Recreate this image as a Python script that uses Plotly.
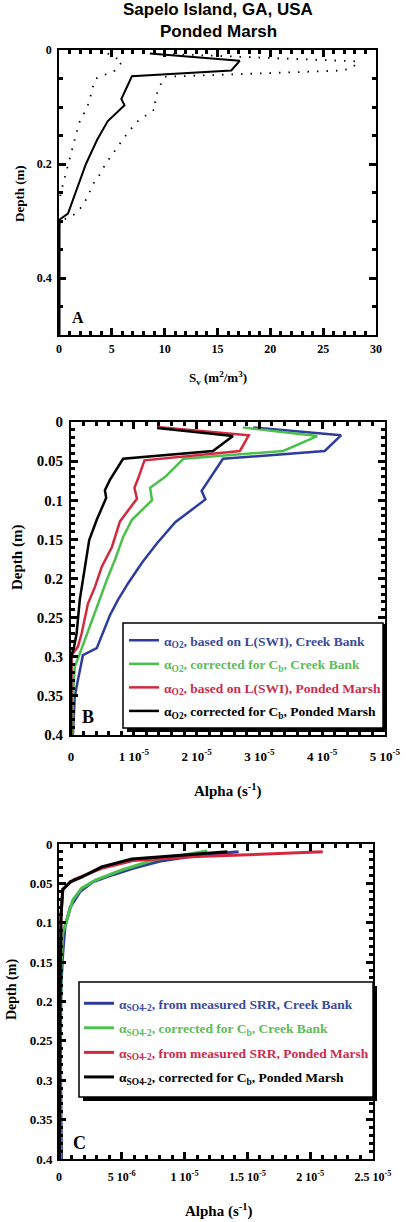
import plotly.graph_objects as go

W, H = 410, 1222

# ---------------- Panel A data: Sv (m2/m3) vs depth (m) ----------------
sv_depth = [0.006, 0.019, 0.036, 0.046, 0.086, 0.097, 0.125, 0.158, 0.2, 0.228, 0.263, 0.287, 0.297, 0.31, 0.5]
sv_mean = [8.6, 17.1, 16.3, 6.9, 5.9, 6.2, 4.6, 3.6, 2.55, 2.0, 1.3, 0.85, 0.1, 0.05, 0.05]

sv_hi_depth = [0.006, 0.02, 0.031, 0.036, 0.047, 0.057, 0.075, 0.091, 0.102, 0.117, 0.127, 0.153, 0.184, 0.2, 0.22, 0.236, 0.258, 0.276, 0.288, 0.3]
sv_hi = [9.0, 28.3, 27.8, 26.8, 10.0, 9.7, 9.3, 9.1, 9.2, 8.1, 7.3, 6.2, 5.0, 4.4, 3.8, 3.2, 2.7, 2.1, 1.5, 0.2]

sv_lo_depth = [0.006, 0.02, 0.036, 0.05, 0.07, 0.09, 0.11, 0.128, 0.149, 0.17, 0.19, 0.208, 0.228, 0.248, 0.27]
sv_lo = [4.6, 6.0, 5.3, 3.5, 3.1, 2.9, 2.4, 1.9, 1.6, 1.3, 1.0, 0.75, 0.5, 0.2, 0.0]

# ---------------- Panel B data: alpha O2 (units of 1e-5 s-1) ----------------
b_blue_depth = [0.007, 0.017, 0.037, 0.047, 0.088, 0.099, 0.128, 0.155, 0.18, 0.206, 0.227, 0.247, 0.289, 0.298, 0.334, 0.351, 0.4]
b_blue = [2.90, 4.30, 4.04, 2.42, 2.08, 2.14, 1.66, 1.37, 1.13, 0.91, 0.75, 0.62, 0.41, 0.19, 0.10, 0.06, 0.03]

b_green_depth = [0.007, 0.018, 0.037, 0.047, 0.07, 0.084, 0.1, 0.125, 0.147, 0.176, 0.202, 0.227, 0.261, 0.296, 0.313, 0.351, 0.4]
b_green = [2.74, 3.92, 3.38, 1.79, 1.50, 1.26, 1.29, 0.97, 0.83, 0.70, 0.57, 0.46, 0.30, 0.14, 0.06, 0.03, 0.02]

b_red_depth = [0.0065, 0.017, 0.037, 0.049, 0.072, 0.084, 0.098, 0.127, 0.16, 0.185, 0.211, 0.232, 0.27, 0.287, 0.298, 0.4]
b_red = [1.37, 2.83, 2.69, 1.17, 1.07, 1.01, 1.05, 0.78, 0.65, 0.49, 0.38, 0.27, 0.17, 0.11, 0.01, 0.0]

b_black_depth = [0.0077, 0.018, 0.037, 0.047, 0.074, 0.087, 0.097, 0.125, 0.151, 0.176, 0.202, 0.227, 0.27, 0.287, 0.3, 0.4]
b_black = [1.37, 2.58, 2.26, 0.83, 0.62, 0.54, 0.56, 0.41, 0.29, 0.24, 0.19, 0.14, 0.09, 0.05, 0.0, 0.0]

# ---------------- Panel C data: alpha SO4-2 (units of 1e-5 s-1) ----------------
c_blue_depth = [0.01, 0.014, 0.022, 0.031, 0.039, 0.048, 0.06, 0.08, 0.105, 0.139, 0.18, 0.25, 0.4]
c_blue = [1.43, 1.12, 0.80, 0.59, 0.43, 0.27, 0.17, 0.09, 0.048, 0.03, 0.016, 0.01, 0.02]

c_green_depth = [0.009, 0.02, 0.033, 0.046, 0.056, 0.071, 0.092, 0.113, 0.156, 0.3, 0.4]
c_green = [1.18, 0.76, 0.50, 0.29, 0.18, 0.11, 0.07, 0.03, 0.016, 0.01, 0.008]

c_red_depth = [0.01, 0.016, 0.021, 0.031, 0.045, 0.057, 0.09, 0.2, 0.4]
c_red = [2.10, 1.10, 0.59, 0.34, 0.12, 0.03, 0.016, 0.008, 0.004]

c_black_depth = [0.01, 0.019, 0.029, 0.042, 0.048, 0.058, 0.092, 0.2, 0.4]
c_black = [1.34, 0.58, 0.34, 0.18, 0.09, 0.03, 0.016, 0.008, 0.004]

SCALE = 1e-5

tick_b = [0, 1e-5, 2e-5, 3e-5, 4e-5, 5e-5]
tick_b_text = ["0", "1 10<sup>-5</sup>", "2 10<sup>-5</sup>", "3 10<sup>-5</sup>", "4 10<sup>-5</sup>", "5 10<sup>-5</sup>"]
tick_c = [0, 5e-6, 1e-5, 1.5e-5, 2e-5, 2.5e-5]
tick_c_text = ["0", "5 10<sup>-6</sup>", "1 10<sup>-5</sup>", "1.5 10<sup>-5</sup>", "2 10<sup>-5</sup>", "2.5 10<sup>-5</sup>"]

BLUE, GREEN, RED, BLACK = "#2e3c9c", "#4cbf4c", "#d4283e", "#000000"
TBLUE, TGREEN, TRED = "#3a4a9c", "#5dbb5d", "#cc2c4c"

legend_b = [
    ("α<sub>O2</sub>, based on L(SWI), Creek Bank", TBLUE),
    ("α<sub>O2</sub>, corrected for C<sub>b</sub>, Creek Bank", TGREEN),
    ("α<sub>O2</sub>, based on L(SWI), Ponded Marsh", TRED),
    ("α<sub>O2</sub>, corrected for C<sub>b</sub>, Ponded Marsh", BLACK),
]
legend_c = [
    ("α<sub>SO4-2</sub>, from measured SRR, Creek Bank", TBLUE),
    ("α<sub>SO4-2</sub>, corrected for C<sub>b</sub>, Creek Bank", TGREEN),
    ("α<sub>SO4-2</sub>, from measured SRR, Ponded Marsh", TRED),
    ("α<sub>SO4-2</sub>, corrected for C<sub>b</sub>, Ponded Marsh", BLACK),
]

SERIF = "Liberation Serif"
SANS = "Liberation Sans"


def px(x):
    return x / W


def py(y):
    return 1 - y / H


fig = go.Figure()

# Panel A
fig.add_trace(go.Scatter(x=sv_hi, y=sv_hi_depth, mode="lines", line=dict(color="black", width=1.8, dash="1.5px,8px"),
                         xaxis="x", yaxis="y", showlegend=False))
fig.add_trace(go.Scatter(x=sv_lo, y=sv_lo_depth, mode="lines", line=dict(color="black", width=1.8, dash="1.5px,8px"),
                         xaxis="x", yaxis="y", showlegend=False))
fig.add_trace(go.Scatter(x=sv_mean, y=sv_depth, mode="lines", line=dict(color="black", width=2),
                         xaxis="x", yaxis="y", showlegend=False))

# Panel B
for (xs, ds, col, (nm, tc), grp) in [
    (b_blue, b_blue_depth, BLUE, legend_b[0], "b1"),
    (b_green, b_green_depth, GREEN, legend_b[1], "b2"),
    (b_red, b_red_depth, RED, legend_b[2], "b3"),
    (b_black, b_black_depth, BLACK, legend_b[3], "b4"),
]:
    fig.add_trace(go.Scatter(x=[v * SCALE for v in xs], y=ds, mode="lines", line=dict(color=col, width=2.5),
                             name=f"<span style='color:{tc}'>{nm}</span>", legendgroup=grp,
                             xaxis="x2", yaxis="y2", legend="legend"))

# Panel C
for (xs, ds, col, (nm, tc), grp) in [
    (c_blue, c_blue_depth, BLUE, legend_c[0], "c1"),
    (c_green, c_green_depth, GREEN, legend_c[1], "c2"),
    (c_red, c_red_depth, RED, legend_c[2], "c3"),
    (c_black, c_black_depth, BLACK, legend_c[3], "c4"),
]:
    fig.add_trace(go.Scatter(x=[v * SCALE for v in xs], y=ds, mode="lines", line=dict(color=col, width=3),
                             name=f"<span style='color:{tc}'>{nm}</span>", legendgroup=grp,
                             xaxis="x3", yaxis="y3", legend="legend2"))


def axis(domain, rng, dtick, minor_dtick, tick_size, anchor, standoff, tickvals=None, ticktext=None):
    d = dict(domain=domain, range=rng, anchor=anchor, showline=True, linecolor="black", linewidth=1.8,
             mirror="allticks", ticks="inside", ticklen=7, tickwidth=3, tickcolor="black",
             showgrid=False, zeroline=False, layer="above traces",
             tickfont=dict(family=SERIF, size=tick_size, color="black", weight="bold"),
             minor=dict(ticks="inside", ticklen=4, tickwidth=3, tickcolor="black", dtick=minor_dtick,
                        showgrid=False),
             ticklabelstandoff=standoff)
    if tickvals is not None:
        d.update(tickmode="array", tickvals=tickvals, ticktext=ticktext)
    else:
        d.update(tick0=0, dtick=dtick)
    return d


layout = dict(
    template="none",
    width=W, height=H, margin=dict(l=0, r=0, t=0, b=0),
    paper_bgcolor="white", plot_bgcolor="white",
    xaxis=axis([px(59), px(376)], [0, 30], 5, 1, 12, "y", 2),
    yaxis=axis([py(335), py(50)], [0.5, 0], 0.2, 0.05, 12, "x", 3),
    xaxis2=axis([px(71), px(385)], [0, 5e-5], None, 2e-6, 13, "y2", 8, tick_b, tick_b_text),
    yaxis2=axis([py(735), py(422)], [0.4, 0], 0.05, 0.01, 15, "x2", 3),
    xaxis3=axis([px(59), px(373)], [0, 2.5e-5], None, 1e-6, 12, "y3", 6, tick_c, tick_c_text),
    yaxis3=axis([py(1159), py(844)], [0.4, 0], 0.05, 0.01, 13, "x3", 2),
    legend=dict(x=px(124), y=py(625), xanchor="left", yanchor="top", bgcolor="rgba(0,0,0,0)", borderwidth=0,
                font=dict(family=SERIF, size=13.5, color="black", weight="bold"), tracegroupgap=3,
                itemwidth=30),
    legend2=dict(x=px(79), y=py(988), xanchor="left", yanchor="top", bgcolor="rgba(0,0,0,0)", borderwidth=0,
                 font=dict(family=SERIF, size=13.5, color="black", weight="bold"), tracegroupgap=4,
                 itemwidth=30),
)
fig.update_layout(**layout)

shapes = []
for (x0, y0, x1, y1) in [(123, 623, 383, 728), (79, 982, 373, 1097)]:
    shapes.append(dict(type="rect", xref="paper", yref="paper", x0=px(x0 + 4), x1=px(x1 + 4), y0=py(y0 + 4), y1=py(y1 + 4),
                       fillcolor="black", line=dict(width=0), layer="above"))
    shapes.append(dict(type="rect", xref="paper", yref="paper", x0=px(x0), x1=px(x1), y0=py(y0), y1=py(y1),
                       fillcolor="white", line=dict(color="black", width=1.5), layer="above"))
fig.update_layout(shapes=shapes)


def ann(text, x, y, size, family=SERIF, angle=0):
    return dict(text=text, x=px(x), y=py(y), xref="paper", yref="paper", showarrow=False,
                xanchor="center", yanchor="middle", textangle=angle,
                font=dict(family=family, size=size, color="black", weight="bold"))


annotations = [
    ann("Sapelo Island, GA, USA", 218, 10, 17, SANS),
    ann("Ponded Marsh", 218, 31, 17, SANS),
    ann("Depth (m)", 19, 194, 13, angle=-90),
    ann("S<sub>v</sub> (m<sup>2</sup>/m<sup>3</sup>)", 218, 378, 13),
    ann("A", 78, 318, 16),
    ann("Depth (m)", 17, 558, 15, angle=-90),
    ann("Alpha (s<sup>-1</sup>)", 228, 790, 15),
    ann("B", 88, 717, 18),
    ann("Depth (m)", 12, 990, 14, angle=-90),
    ann("Alpha (s<sup>-1</sup>)", 219, 1210, 15),
    ann("C", 79, 1143, 18),
]
fig.update_layout(annotations=annotations)

fig.write_html("out.html")
